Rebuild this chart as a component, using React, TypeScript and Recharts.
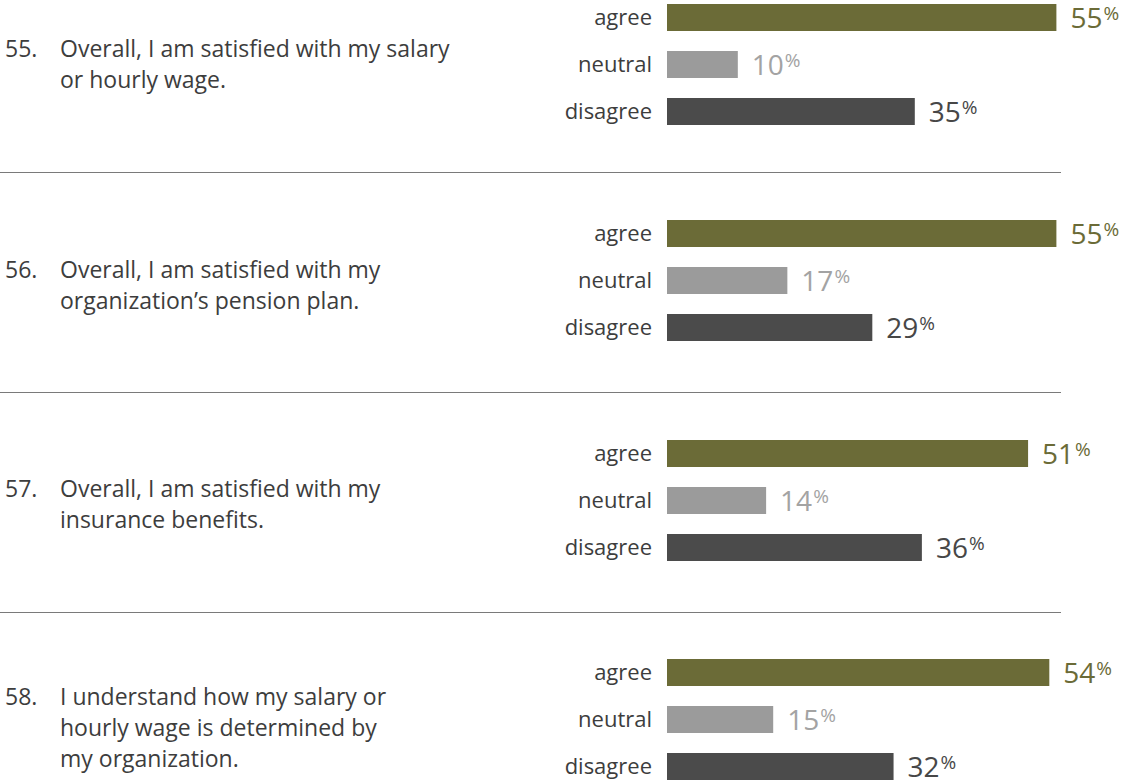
import { BarChart, Bar, XAxis, YAxis, Cell, LabelList } from 'recharts'

// ── data ────────────────────────────────────────────────────────────────────

const questionNumbers = ['55.', '56.', '57.', '58.']
const questionLines = [
  ['Overall, I am satisfied with my salary', 'or hourly wage.'],
  ['Overall, I am satisfied with my', 'organization’s pension plan.'],
  ['Overall, I am satisfied with my', 'insurance benefits.'],
  ['I understand how my salary or', 'hourly wage is determined by', 'my organization.'],
]
const categories = ['agree', 'neutral', 'disagree']
const agreeValues = [55, 55, 51, 54]
const neutralValues = [10, 17, 14, 15]
const disagreeValues = [35, 29, 36, 32]

// ── styles / layout ─────────────────────────────────────────────────────────

const BAR_COLORS = ['#6b6b37', '#9b9b9b', '#4b4b4b']
const LABEL_COLORS = ['#6b6b37', '#a3a3a3', '#474747']
const FONT = '"Open Sans", sans-serif'
const TEXT = '#3d3d3d'

const CHART_LEFT = 480
const CHART_W = 1127 - CHART_LEFT
const AXIS_W = 187 // plot starts at x=667
const PLOT_W = 424.8 // 0..60 → 7.08px per %
const ROW_H = 47
const chartTops = [-6, 210, 430, 649]
const textTops = [33, 254, 473, 681]
const separatorYs = [172, 392, 612]

function ValueLabel(props: any) {
  const { x, y, width, height, value, index } = props
  return (
    <text
      x={x + width + 14}
      y={y + height / 2 + 10}
      fill={LABEL_COLORS[index]}
      fontFamily={FONT}
      fontSize={28}
    >
      {value}
      <tspan fontSize={19} dy={-8} dx={1}>%</tspan>
    </text>
  )
}

function QuestionChart({ i }: { i: number }) {
  const data = categories.map((label, k) => ({
    label,
    value: [agreeValues, neutralValues, disagreeValues][k][i],
  }))

  return (
    <div style={{ position: 'absolute', left: CHART_LEFT, top: chartTops[i] }}>
      <BarChart
        width={CHART_W}
        height={ROW_H * 3}
        data={data}
        layout="vertical"
        margin={{ top: 0, right: CHART_W - AXIS_W - PLOT_W, bottom: 0, left: 0 }}
      >
        <XAxis type="number" domain={[0, 60]} hide />
        <YAxis
          type="category"
          dataKey="label"
          width={AXIS_W}
          axisLine={false}
          tickLine={false}
          tickSize={0}
          tickMargin={15}
          tick={{ fill: TEXT, fontSize: 22, fontFamily: FONT }}
        />
        <Bar dataKey="value" barSize={27} isAnimationActive={false}>
          {data.map((d, k) => (
            <Cell key={d.label} fill={BAR_COLORS[k]} />
          ))}
          <LabelList dataKey="value" content={ValueLabel} />
        </Bar>
      </BarChart>
    </div>
  )
}

export default function App() {
  return (
    <div
      style={{
        position: 'absolute',
        left: 0,
        top: 0,
        width: 1127,
        height: 783,
        overflow: 'hidden',
        background: '#fff',
        fontFamily: FONT,
        color: TEXT,
      }}
    >
      {/* separators */}
      {separatorYs.map((y) => (
        <div
          key={y}
          style={{ position: 'absolute', left: 0, top: y, width: 1061, borderTop: '1px solid #7a7a7a' }}
        />
      ))}

      {/* question text */}
      {questionNumbers.map((num, i) => (
        <div key={num} style={{ position: 'absolute', top: textTops[i], left: 0, fontSize: 23, lineHeight: '31px' }}>
          <div style={{ position: 'absolute', left: 5, top: 0, whiteSpace: 'nowrap' }}>{num}</div>
          <div style={{ position: 'absolute', left: 60, top: 0, whiteSpace: 'nowrap' }}>
            {questionLines[i].map((line) => (
              <div key={line}>{line}</div>
            ))}
          </div>
        </div>
      ))}

      {questionNumbers.map((_, i) => (
        <QuestionChart key={i} i={i} />
      ))}
    </div>
  )
}
